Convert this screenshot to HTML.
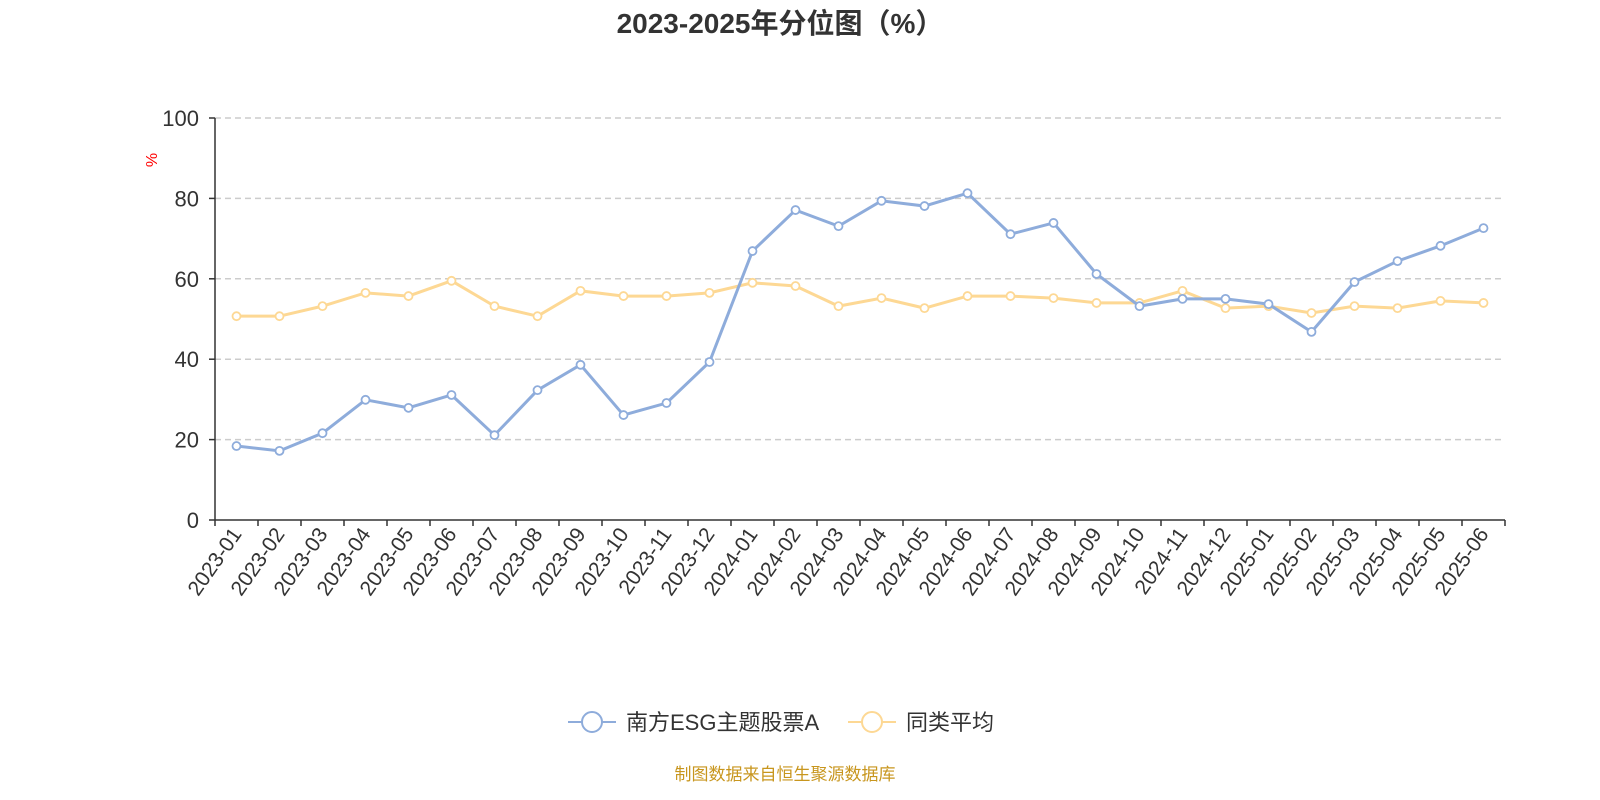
<!DOCTYPE html>
<html><head><meta charset="utf-8"><style>
html,body{margin:0;padding:0;background:#fff;overflow:hidden;width:1600px;height:800px;}
svg{display:block;}
svg text{font-family:"Liberation Sans","Noto Sans CJK SC",sans-serif;}
</style></head><body>
<svg id="chart" width="1600" height="800" xmlns="http://www.w3.org/2000/svg">
<text x="780" y="33" text-anchor="middle" font-size="28" font-weight="bold" fill="#333">2023-2025年分位图（%）</text>
<text x="157" y="160" font-size="16" fill="red" transform="rotate(-90 157 160)" text-anchor="middle">%</text>
<g id="grid"></g><g id="axes"></g><g id="series"></g>
<g>
<g>
<line x1="568" y1="722" x2="616" y2="722" stroke="#8eacdb" stroke-width="2"/>
<circle cx="592" cy="722" r="10" fill="#fff" stroke="#8eacdb" stroke-width="2"/>
<text x="626" y="730" font-size="22" fill="#333">南方ESG主题股票A</text></g>
<g>
<line x1="848" y1="722" x2="896" y2="722" stroke="#fdd894" stroke-width="2"/>
<circle cx="872" cy="722" r="10" fill="#fff" stroke="#fdd894" stroke-width="2"/>
<text x="906" y="730" font-size="22" fill="#333">同类平均</text></g>
</g>
<text x="785" y="780" text-anchor="middle" font-size="17" fill="#c8961e">制图数据来自恒生聚源数据库</text>
</svg>
<script>
const categories=["2023-01","2023-02","2023-03","2023-04","2023-05","2023-06","2023-07","2023-08","2023-09","2023-10","2023-11","2023-12","2024-01","2024-02","2024-03","2024-04","2024-05","2024-06","2024-07","2024-08","2024-09","2024-10","2024-11","2024-12","2025-01","2025-02","2025-03","2025-04","2025-05","2025-06"];
const fundValues=[18.4,17.2,21.6,29.9,27.9,31.1,21.1,32.3,38.6,26.1,29.1,39.3,66.9,77.1,73.1,79.4,78.1,81.3,71.1,73.9,61.2,53.2,55.0,55.0,53.7,46.8,59.2,64.4,68.2,72.6];
const avgValues=[50.7,50.7,53.2,56.5,55.7,59.5,53.2,50.7,57.0,55.7,55.7,56.5,59.0,58.2,53.2,55.2,52.7,55.7,55.7,55.2,54.0,54.0,57.0,52.7,53.2,51.5,53.2,52.7,54.5,54.0];
const yTicks=[0,20,40,60,80,100];
const NS="http://www.w3.org/2000/svg";
const L=215,R=1505,T=118,B=520;
const bw=(R-L)/categories.length;
const xs=i=>L+bw*(i+0.5);
const ys=v=>B-(v/100)*(B-T);
function mk(tag,attrs,parent){const e=document.createElementNS(NS,tag);for(const k in attrs)e.setAttribute(k,attrs[k]);parent.appendChild(e);return e;}
const grid=document.getElementById('grid'),axes=document.getElementById('axes'),series=document.getElementById('series');
yTicks.forEach(t=>{
  if(t>0){const g=mk('line',{x1:L,x2:R,y1:ys(t),y2:ys(t),stroke:'#ccc','stroke-dasharray':'6,4','stroke-width':1.5},grid);
  
  }
  const tx=mk('text',{x:L-16,y:ys(t)+8,'text-anchor':'end','font-size':22,fill:'#333'},axes);tx.textContent=t;
  
  
  mk('line',{x1:L-6,x2:L,y1:ys(t),y2:ys(t),stroke:'#333','stroke-width':1.5},axes);
});
const ya=mk('line',{x1:L,x2:L,y1:T,y2:B,stroke:'#333','stroke-width':1.5},axes);


const xa=mk('line',{x1:L,x2:R,y1:B,y2:B,stroke:'#333','stroke-width':1.5},axes);


for(let i=0;i<=categories.length;i++)mk('line',{x1:L+bw*i,x2:L+bw*i,y1:B,y2:B+6,stroke:'#333','stroke-width':1.5},axes);
categories.forEach((c,i)=>{
  const x=xs(i)+6,y=B+14;
  const tx=mk('text',{x:x,y:y,'text-anchor':'end','font-size':21,fill:'#333',transform:`rotate(-55 ${x} ${y})`},axes);tx.textContent=c;
  
  
});
function drawSeries(vals,color,name){
  const p=mk('polyline',{points:vals.map((v,i)=>xs(i)+','+ys(v)).join(' '),fill:'none',stroke:color,'stroke-width':3},series);
  
  
  vals.forEach((v,i)=>{const c=mk('circle',{cx:xs(i),cy:ys(v),r:4,fill:'#fff',stroke:color,'stroke-width':1.8},series);
  
  });
}
drawSeries(avgValues,'#fdd894','average');
drawSeries(fundValues,'#8eacdb','fund');
</script>
</body></html>
